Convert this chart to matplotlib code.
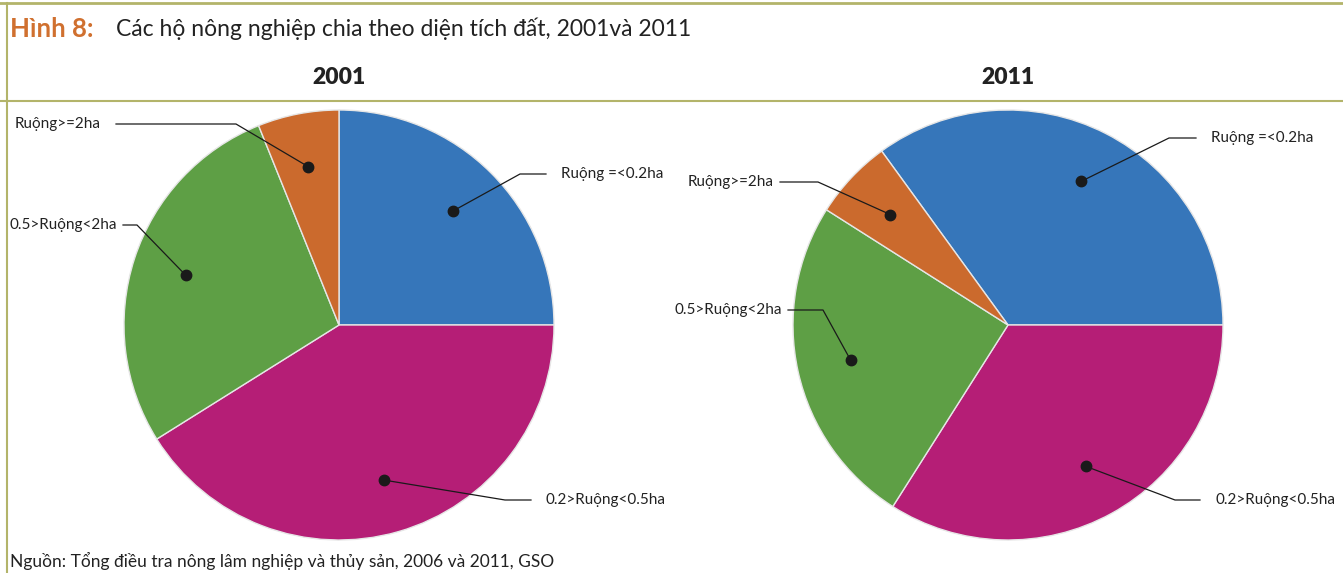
import matplotlib.pyplot as plt
import numpy as np
from matplotlib.lines import Line2D

# du lieu (% so ho), thu tu theo chieu kim dong ho
categories = ['Ruộng =<0.2ha', '0.2>Ruộng<0.5ha', '0.5>Ruộng<2ha', 'Ruộng>=2ha']
share_2001 = [25.0, 41.1, 27.8, 6.1]
share_2011 = [35.0, 34.0, 25.0, 6.0]
start_2001 = 90
start_2011 = 126
colors = ['#3676BA', '#B51E76', '#5E9F45', '#CB6A2D']

W, H = 1343, 573
fig = plt.figure(figsize=(W / 100, H / 100), dpi=100)
plt.rcParams['font.family'] = ['Lato', 'DejaVu Sans']

def px(x, y):
    # pixel (from top-left) -> figure fraction
    return x / W, 1 - y / H

line_col = '#B3B46A'
fig.add_artist(Line2D([0, 1], [1 - 2.5 / H] * 2, color=line_col, lw=2, transform=fig.transFigure))
fig.add_artist(Line2D([0, 1], [1 - 100.5 / H] * 2, color=line_col, lw=1.5, transform=fig.transFigure))
fig.add_artist(Line2D([6.5 / W] * 2, [0, 1 - 2.5 / H], color=line_col, lw=1.5, transform=fig.transFigure))

fig.text(*px(10, 29), 'Hình 8:', color='#D0702F', fontsize=18.5, fontweight='bold', va='center')
fig.text(*px(116, 29), 'Các hộ nông nghiệp chia theo diện tích đất, 2001và 2011',
         color='#222222', fontsize=16.5, va='center')
fig.text(*px(10, 561), 'Nguồn: Tổng điều tra nông lâm nghiệp và thủy sản, 2006 và 2011, GSO',
         color='#222222', fontsize=12.5, va='center')

# vi tri nhan: (elbow x, elbow y, cuoi doan ngang x, text x, ha) theo pixel
label_pos_2001 = [(520, 174, 546, 561, 'left'), (505, 500, 531, 546, 'left'),
                  (137, 225, 123, 117, 'right'), (236, 124, 116, 101, 'right')]
label_pos_2011 = [(1169, 138, 1196, 1211, 'left'), (1175, 500, 1200, 1215, 'left'),
                  (823, 310, 788, 782, 'right'), (818, 182, 780, 774, 'right')]

R = 215
panels = [('2001', share_2001, start_2001, 339, label_pos_2001),
          ('2011', share_2011, start_2011, 1008, label_pos_2011)]

for year, vals, start, cx, lpos in panels:
    cy = 325
    l, b = px(cx - R, cy + R)
    ax = fig.add_axes([l, b, 2 * R / W, 2 * R / H])
    wedges, _ = ax.pie(vals, colors=colors, startangle=start, counterclock=False,
                       wedgeprops=dict(edgecolor='#e6e6e6', linewidth=1))
    ax.set_xlim(-1, 1)
    ax.set_ylim(-1, 1)
    ax.set_aspect('equal')
    ax.axis('off')
    fig.text(*px(cx, 77), year, fontsize=16.5, fontweight='heavy', ha='center', va='center',
             color='#222222')
    for w, lab, (ex, ey, hx, tx, ha) in zip(wedges, categories, lpos):
        mid = np.deg2rad((w.theta1 + w.theta2) / 2)
        dx, dy = 0.75 * np.cos(mid), 0.75 * np.sin(mid)
        ax.plot(dx, dy, 'o', color='#1a1a1a', ms=7.5, zorder=5)
        # toa do pixel cua cham
        pxx, pyy = ax.transData.transform((dx, dy))
        pts = [(pxx, pyy), (ex, H - ey), (hx, H - ey)]
        xs = [p[0] / W for p in pts]
        ys = [p[1] / H for p in pts]
        fig.add_artist(Line2D(xs, ys, color='#1a1a1a', lw=0.9, transform=fig.transFigure, zorder=6))
        fig.text(*px(tx, ey), lab, fontsize=11, ha=ha, va='center', color='#222222')

fig.savefig('out.png', dpi=100)
